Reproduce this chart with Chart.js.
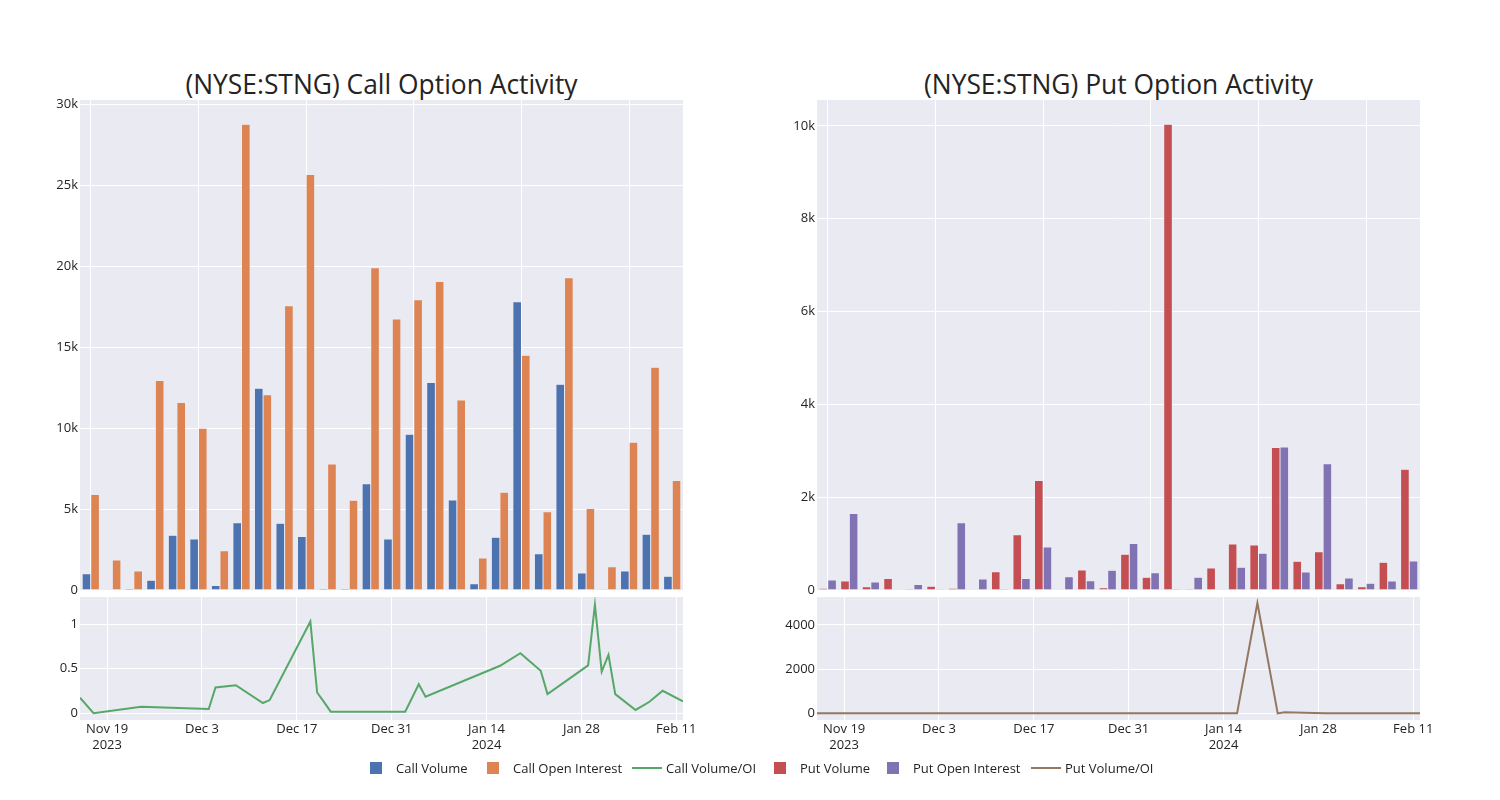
<!DOCTYPE html>
<html>
<head>
<meta charset="utf-8">
<script src="https://cdn.jsdelivr.net/npm/chart.js@4.4.1/dist/chart.umd.min.js"></script>
<style>
html,body{margin:0;padding:0;background:#fff;}
body{width:1500px;height:800px;position:relative;overflow:hidden;font-family:'Open Sans',sans-serif;color:#242424;}
canvas{position:absolute;}
.title{position:absolute;font-size:26.4px;white-space:nowrap;transform:translate(-50%,-50%);line-height:1;}
.mk{position:absolute;}
.lt{position:absolute;font-size:13px;white-space:nowrap;transform:translateY(-50%);line-height:1;}
</style>
</head>
<body>
<div class="title" style="left:381.5px;top:84px;">(NYSE:STNG) Call Option Activity</div>
<div class="title" style="left:1118.5px;top:84px;">(NYSE:STNG) Put Option Activity</div>

<canvas id="callBar" width="703" height="510" style="left:0px;top:90px;"></canvas>
<canvas id="putBar" width="703" height="510" style="left:737px;top:90px;"></canvas>
<canvas id="callLine" width="703" height="173" style="left:0px;top:587px;"></canvas>
<canvas id="putLine" width="703" height="173" style="left:737px;top:587px;"></canvas>

<div id="legend"></div>

<script>
// ---------- data ----------
const dates = ['2023-11-15','2023-11-17','2023-11-24','2023-12-04','2023-12-05','2023-12-08','2023-12-12',
  '2023-12-13','2023-12-19','2023-12-20','2023-12-21','2023-12-22','2024-01-02','2024-01-04','2024-01-05',
  '2024-01-16','2024-01-19','2024-01-22','2024-01-23','2024-01-29','2024-01-30','2024-01-31','2024-02-01',
  '2024-02-02','2024-02-05','2024-02-07','2024-02-09','2024-02-12'];

const callVolume = [1000, 0, 90, 600, 3380, 3150, 280, 4160, 12460, 4120, 3300, 100, 80, 6570, 3150,
  9620, 12830, 5560, 390, 3260, 17820, 2240, 12710, 1050, 50, 1170, 3440, 850];
const callOpenInterest = [5900, 1850, 1180, 12940, 11580, 9990, 2430, 28780, 12070, 17570, 25670, 7790, 5540, 19920, 16750,
  17940, 19060, 11740, 1980, 6040, 14500, 4840, 19300, 5030, 1440, 9130, 13760, 6760];
const callVolumeOI = [0.174, 0, 0.074, 0.048, 0.29, 0.315, 0.115, 0.148, 1.03, 0.233, 0.128, 0.018, 0.018, 0.326, 0.185,
  0.533, 0.674, 0.478, 0.215, 0.537, 1.22, 0.467, 0.656, 0.215, 0.037, 0.126, 0.252, 0.133];

const putVolume = [40, 195, 70, 250, 20, 80, 40, 0, 395, 1190, 2360, 10, 430, 50, 770,
  273, 10040, 20, 474, 990, 970, 3070, 618, 826, 136, 70, 597, 2600];
const putOpenInterest = [215, 1650, 172, 10, 120, 5, 1450, 237, 20, 250, 927, 287, 200, 424, 1000,
  373, 2, 273, 8, 490, 790, 3080, 388, 2720, 259, 144, 194, 625];
const putVolumeOI = [0.19, 0.12, 0.41, 8, 0.17, 6, 0.03, 0, 7, 4.8, 2.5, 0.03, 2.2, 0.12, 0.77,
  0.73, 4990, 0.07, 55, 2.0, 1.2, 1.0, 1.6, 0.3, 0.5, 0.5, 3.1, 4.2];

const callBarTicks = [0, 5000, 10000, 15000, 20000, 25000, 30000];
const putBarTicks = [0, 2000, 4000, 6000, 8000, 10000];
const callRatioTicks = [0, 0.5, 1];
const putRatioTicks = [0, 2000, 4000];
const dateTicks = ['2023-11-19','2023-12-03','2023-12-17','2023-12-31','2024-01-14','2024-01-28','2024-02-11'];
const dateTickLabels = [['Nov 19','2023'],['Dec 3'],['Dec 17'],['Dec 31'],['Jan 14','2024'],['Jan 28'],['Feb 11']];

const seriesNames = ['Call Volume','Call Open Interest','Call Volume/OI','Put Volume','Put Open Interest','Put Volume/OI'];

// ---------- styling ----------
const COLORS = {callVol:'#4C72B0', callOI:'#DD8452', callRatio:'#55A868', putVol:'#C44E52', putOI:'#8172B3', putRatio:'#937860'};
const TEXT = '#242424';
const PLOT_BG = '#EAEAF2';

Chart.defaults.font.family = "'Open Sans', sans-serif";
Chart.defaults.font.size = 13;
Chart.defaults.color = TEXT;

const bgPlugin = {
  id: 'plotbg',
  beforeDraw(chart) {
    const a = chart.chartArea, ctx = chart.ctx;
    ctx.save();
    ctx.fillStyle = PLOT_BG;
    ctx.fillRect(a.left, a.top, a.right - a.left, a.bottom - a.top);
    ctx.restore();
  }
};

function toDay(s) {
  const p = s.split('-').map(Number);
  return Date.UTC(p[0], p[1] - 1, p[2]) / 86400000;
}

function kfmt(v) { return v === 0 ? '0' : (v / 1000) + 'k'; }

function barChart(id, vol, oi, c1, c2, max, ticks) {
  new Chart(document.getElementById(id), {
    type: 'bar',
    data: {
      labels: dates,
      datasets: [
        {data: vol, backgroundColor: c1, borderColor: PLOT_BG, borderWidth: 0.5, categoryPercentage: 0.8, barPercentage: 1},
        {data: oi, backgroundColor: c2, borderColor: PLOT_BG, borderWidth: 0.5, categoryPercentage: 0.8, barPercentage: 1}
      ]
    },
    options: {
      responsive: false, animation: false,
      layout: {padding: {top: 10, bottom: 10, left: 0, right: 20}},
      plugins: {legend: {display: false}, tooltip: {enabled: false}},
      scales: {
        x: {
          grid: {offset: false, drawTicks: false, lineWidth: 1,
                 color: c => (c.index % 5 === 0 ? '#ffffff' : 'rgba(0,0,0,0)')},
          border: {display: false},
          ticks: {display: false, autoSkip: false},
          afterFit: s => { s.height = 0; }
        },
        y: {
          min: 0, max: max,
          grid: {color: '#ffffff', drawTicks: false, lineWidth: 1},
          border: {display: false},
          ticks: {padding: 2, callback: v => kfmt(v)},
          afterBuildTicks: s => { s.ticks = ticks.map(v => ({value: v})); },
          afterFit: s => { s.width = 80; }
        }
      }
    },
    plugins: [bgPlugin]
  });
}

function lineChart(id, vals, color, min, max, ticks) {
  const pts = dates.map((d, i) => ({x: toDay(d), y: vals[i]}));
  const tickDays = dateTicks.map(toDay);
  new Chart(document.getElementById(id), {
    type: 'line',
    data: {datasets: [{data: pts, borderColor: color, borderWidth: 2, pointRadius: 0, fill: false, tension: 0}]},
    options: {
      responsive: false, animation: false,
      layout: {padding: {top: 10, bottom: 0, left: 0, right: 20}},
      plugins: {legend: {display: false}, tooltip: {enabled: false}},
      scales: {
        x: {
          type: 'linear',
          min: toDay(dates[0]), max: toDay(dates[dates.length - 1]),
          grid: {color: '#ffffff', drawTicks: false, lineWidth: 1},
          border: {display: false},
          ticks: {autoSkip: false, maxRotation: 0, padding: 1, font: {lineHeight: 1.25},
                  callback: (v, i) => dateTickLabels[i]},
          afterBuildTicks: s => { s.ticks = tickDays.map(v => ({value: v})); },
          afterFit: s => { s.height = 40; }
        },
        y: {
          min: min, max: max,
          grid: {color: '#ffffff', drawTicks: false, lineWidth: 1},
          border: {display: false},
          ticks: {padding: 2, callback: v => String(v)},
          afterBuildTicks: s => { s.ticks = ticks.map(v => ({value: v})); },
          afterFit: s => { s.width = 80; }
        }
      }
    },
    plugins: [bgPlugin]
  });
}

barChart('callBar', callVolume, callOpenInterest, COLORS.callVol, COLORS.callOI, 30280, callBarTicks);
barChart('putBar', putVolume, putOpenInterest, COLORS.putVol, COLORS.putOI, 10560, putBarTicks);
lineChart('callLine', callVolumeOI, COLORS.callRatio, -0.076, 1.306, callRatioTicks);
lineChart('putLine', putVolumeOI, COLORS.putRatio, -300, 5260, putRatioTicks);

// ---------- legend ----------
const legendItems = [
  {name: seriesNames[0], color: COLORS.callVol, kind: 'box', mx: 370, tx: 396},
  {name: seriesNames[1], color: COLORS.callOI, kind: 'box', mx: 487, tx: 513},
  {name: seriesNames[2], color: COLORS.callRatio, kind: 'line', mx: 632, tx: 666},
  {name: seriesNames[3], color: COLORS.putVol, kind: 'box', mx: 774, tx: 800},
  {name: seriesNames[4], color: COLORS.putOI, kind: 'box', mx: 887, tx: 913},
  {name: seriesNames[5], color: COLORS.putRatio, kind: 'line', mx: 1031, tx: 1065}
];
const leg = document.getElementById('legend');
const LY = 768;
legendItems.forEach(it => {
  const m = document.createElement('div');
  m.className = 'mk';
  if (it.kind === 'box') {
    m.style.cssText = `left:${it.mx}px;top:${LY - 6}px;width:12px;height:12px;background:${it.color};`;
  } else {
    m.style.cssText = `left:${it.mx}px;top:${LY - 1}px;width:30px;height:2px;background:${it.color};`;
  }
  leg.appendChild(m);
  const t = document.createElement('div');
  t.className = 'lt';
  t.style.left = it.tx + 'px';
  t.style.top = LY + 'px';
  t.textContent = it.name;
  leg.appendChild(t);
});
</script>
</body>
</html>
